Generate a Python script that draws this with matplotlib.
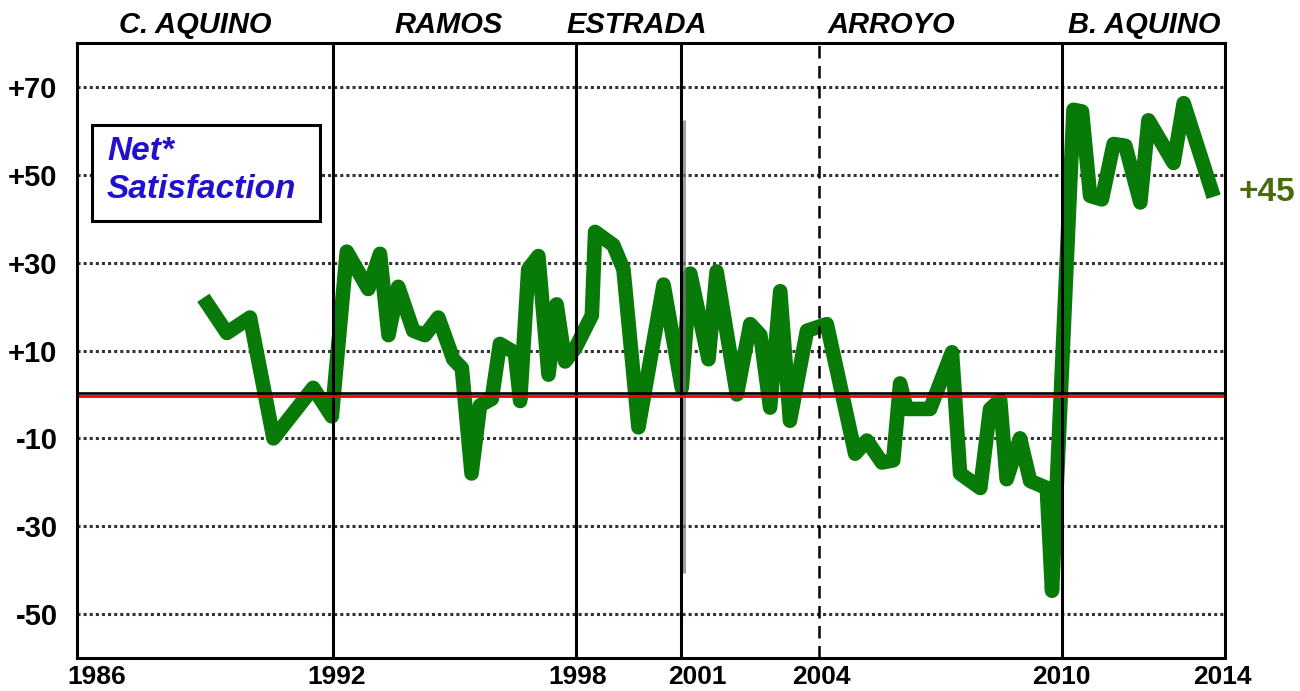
import matplotlib
matplotlib.use("Agg")
import matplotlib.pyplot as plt
from matplotlib.patches import Rectangle

# ---------------- data ----------------
survey_time = [
    1989.25, 1989.83, 1990.40, 1990.98, 1991.96, 1992.42, 1992.79, 1993.32, 1993.61,
    1993.82, 1994.06, 1994.43, 1994.72, 1995.05, 1995.42, 1995.63, 1995.87, 1996.08,
    1996.37, 1996.57, 1996.94, 1997.07, 1997.27, 1997.52, 1997.77, 1997.97, 1998.18,
    1998.43, 1998.84, 1998.92, 1999.37, 1999.62, 1999.99, 2000.61, 2001.06, 2001.27,
    2001.72, 2001.92, 2002.42, 2002.75, 2003.00, 2003.24, 2003.49, 2003.73, 2004.15,
    2004.64, 2005.34, 2005.63, 2006.00, 2006.28, 2006.45, 2006.61, 2007.19, 2007.73,
    2007.93, 2008.43, 2008.67, 2008.92, 2009.08, 2009.41, 2009.66, 2010.07, 2010.20,
    2010.73, 2010.94, 2011.14, 2011.43, 2011.72, 2012.01, 2012.38, 2012.58, 2013.20,
    2013.45, 2014.19,
]
net_satisfaction = [
    22, 14, 17.5, -10, 1.5, -5, 32.5, 24, 32,
    13.5, 24.5, 14.5, 13.5, 17.5, 8, 6, -18, -2.5,
    -1, 11.5, 9.5, -1.5, 28.5, 31.5, 4.5, 20.5, 7.5,
    10.5, 18, 37, 34, 28.5, -7.5, 25, 1.5, 27.5,
    8, 28, 0, 16, 13.5, -3, 23.5, -6, 14.5,
    16, -13.5, -10.5, -15.5, -15, 2.5, -3.3, -3.3, 9.6,
    -18, -21.3, -3.3, -1.3, -19.3, -10, -19.7, -21.3, -44.7,
    64.8, 64.4, 45.2, 44.4, 57, 56.6, 43.7, 62.4, 52.7,
    66.3, 45,
]
presidents = ["C. AQUINO", "RAMOS", "ESTRADA", "ARROYO", "B. AQUINO"]
president_label_x = [1989.04, 1995.30, 1999.96, 2006.23, 2012.47]
term_lines_solid = [1992.45, 1998.45, 2001.05, 2010.45]
term_lines_dashed = [2004.45]
year_labels = ["1986", "1992", "1998", "2001", "2004", "2010", "2014"]
year_label_pos = [1986.62, 1992.55, 1998.50, 2001.44, 2004.50, 2010.43, 2014.40]
y_ticks = [70, 50, 30, 10, -10, -30, -50]
y_labels = ["+70", "+50", "+30", "+10", "-10", "-30", "-50"]
latest_label = "+45"

# ---------------- figure ----------------
plt.rcParams['font.family'] = ['Liberation Sans', 'DejaVu Sans']
fig = plt.figure(figsize=(13, 6.91), dpi=100)
ax = fig.add_axes([77/1300, 1 - 658/691, (1225 - 77)/1300, (658 - 43)/691])
ax.set_xlim(1986.13, 2014.47)
ax.set_ylim(-60, 80)

# gridlines
for y in y_ticks:
    ax.axhline(y, color='#333333', lw=2.2, linestyle=(0, (1, 1)), zorder=1)

# data line
ax.plot(survey_time, net_satisfaction, color='#077a07', lw=10.5,
        solid_joinstyle='round', solid_capstyle='butt', zorder=3)

# term lines
for x in term_lines_solid:
    ax.axvline(x, color='black', lw=2.2, zorder=4)
for x in term_lines_dashed:
    ax.axvline(x, color='black', lw=1.8, linestyle=(0, (5, 3)), zorder=4)
ax.vlines(2001.12, -40.7, 62.5, color='#777777', lw=2.2, alpha=0.7, zorder=4)

# zero line
ax.axhline(0.3, color='black', lw=1.9, zorder=5)
ax.axhline(-0.35, color='#ff0000', lw=2.0, zorder=5)

# axes styling
for s in ax.spines.values():
    s.set_linewidth(2.2)
    s.set_color('black')
    s.set_zorder(6)
ax.set_yticks(y_ticks)
ax.set_yticklabels(y_labels, fontsize=21, fontweight='bold')
ax.set_xticks(year_label_pos)
ax.set_xticklabels(year_labels, fontsize=19, fontweight='bold')
ax.tick_params(axis='y', length=0, pad=14)
ax.tick_params(axis='x', length=0, pad=5)

# president labels
for name, xp in zip(presidents, president_label_x):
    ax.text(xp, 1.029, name, transform=ax.get_xaxis_transform(),
            ha='center', va='center', fontsize=21, fontweight='bold',
            fontstyle='italic', color='black', clip_on=False)

# legend-like box
ax.add_patch(Rectangle((0.0131, 0.7106), 0.1986, 0.156, transform=ax.transAxes,
                       fill=True, facecolor='white', edgecolor='black', lw=2.2, zorder=7))
ax.text(0.0261, 0.8228, "Net*", transform=ax.transAxes, ha='left', va='center',
        fontsize=24, fontweight='bold', fontstyle='italic', color='#2211cc', zorder=8)
ax.text(0.0261, 0.761, "Satisfaction", transform=ax.transAxes, ha='left', va='center',
        fontsize=24, fontweight='bold', fontstyle='italic', color='#2211cc', zorder=8)

# latest value label
ax.text(2014.80, net_satisfaction[-1] + 1, latest_label, ha='left', va='center',
        fontsize=24, fontweight='bold', color='#4a6b0c', clip_on=False)

fig.savefig("out.png", dpi=100)
